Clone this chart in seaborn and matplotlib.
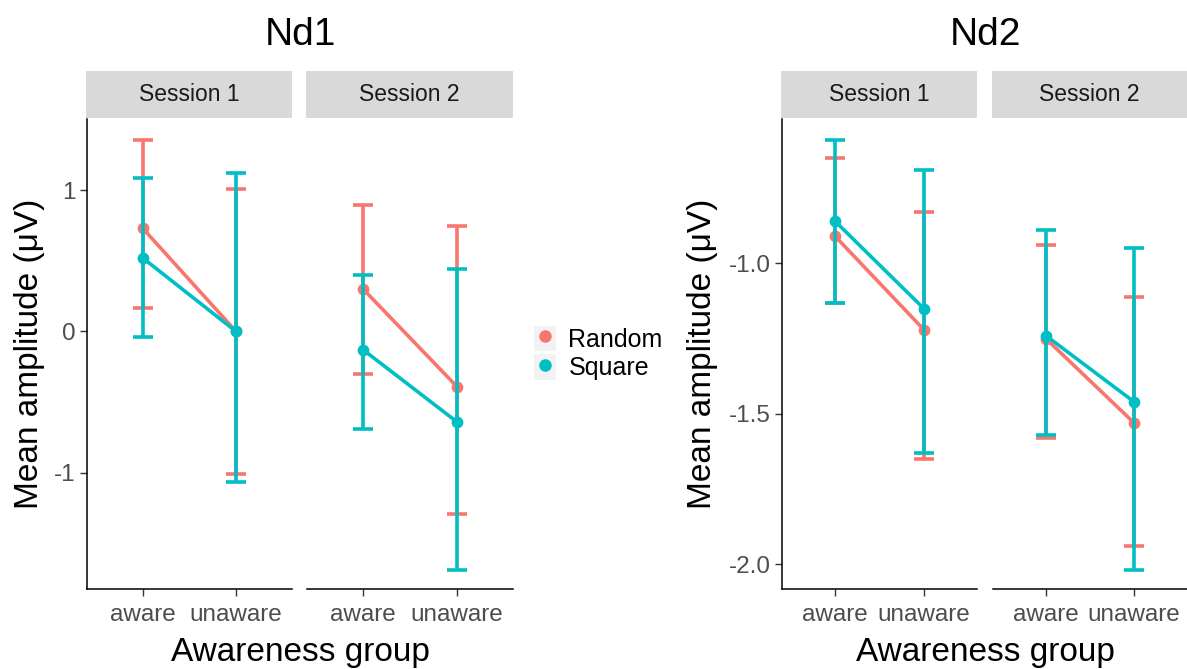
# Nd1 / Nd2 mean amplitude by awareness group, session and condition
import matplotlib
matplotlib.use("Agg")
import matplotlib.pyplot as plt
from matplotlib.lines import Line2D
from matplotlib.patches import Patch
import seaborn as sns
import pandas as pd

# ---- data ----
components = ["Nd1", "Nd2"]
sessions = ["Session 1", "Session 2"]
groups = ["aware", "unaware"]
conditions = ["Random", "Square"]

# order: S1 aware, S1 unaware, S2 aware, S2 unaware
nd1_random_mean = [0.73, 0.00, 0.30, -0.39]
nd1_random_low = [0.17, -1.01, -0.30, -1.29]
nd1_random_high = [1.36, 1.01, 0.90, 0.75]
nd1_square_mean = [0.52, 0.00, -0.13, -0.64]
nd1_square_low = [-0.04, -1.07, -0.69, -1.69]
nd1_square_high = [1.09, 1.12, 0.40, 0.44]

nd2_random_mean = [-0.91, -1.22, -1.25, -1.53]
nd2_random_low = [-1.13, -1.65, -1.58, -1.94]
nd2_random_high = [-0.65, -0.83, -0.94, -1.11]
nd2_square_mean = [-0.86, -1.15, -1.24, -1.46]
nd2_square_low = [-1.13, -1.63, -1.57, -2.02]
nd2_square_high = [-0.59, -0.69, -0.89, -0.95]

nd1_ticks = [-1, 0, 1]
nd1_ticklabels = ["-1", "0", "1"]
nd2_ticks = [-2.0, -1.5, -1.0]
nd2_ticklabels = ["-2.0", "-1.5", "-1.0"]

colors = {"Random": "#F8766D", "Square": "#00BFC4"}

# tabela longa
rows = []
series = {
    ("Nd1", "Random"): (nd1_random_mean, nd1_random_low, nd1_random_high),
    ("Nd1", "Square"): (nd1_square_mean, nd1_square_low, nd1_square_high),
    ("Nd2", "Random"): (nd2_random_mean, nd2_random_low, nd2_random_high),
    ("Nd2", "Square"): (nd2_square_mean, nd2_square_low, nd2_square_high),
}
for (comp, cond), (means, lows, highs) in series.items():
    i = 0
    for sess in sessions:
        for grp in groups:
            rows.append({"component": comp, "condition": cond, "session": sess,
                         "group": grp, "mean": means[i], "low": lows[i], "high": highs[i]})
            i += 1
df = pd.DataFrame(rows)

# ---- figure ----
sns.set_style("white")
plt.rcParams["font.family"] = ["Liberation Sans", "DejaVu Sans"]
plt.rcParams["axes.unicode_minus"] = False
plt.rcParams["text.color"] = "black"

W, H = 1187, 669
fig = plt.figure(figsize=(W / 100, H / 100), dpi=100)

def frac(x0, y0, x1, y1):
    return [x0 / W, 1 - y1 / H, (x1 - x0) / W, (y1 - y0) / H]

panel_x = {"Nd1": [(87, 292), (307, 513)], "Nd2": [(782, 977), (993, 1187)]}
ylims = {"Nd1": (-1.825, 1.506), "Nd2": (-2.082, -0.52)}
yticks = {"Nd1": (nd1_ticks, nd1_ticklabels), "Nd2": (nd2_ticks, nd2_ticklabels)}
top, bottom = 119, 589

for comp in components:
    for j, sess in enumerate(sessions):
        x0, x1 = panel_x[comp][j]
        ax = fig.add_axes(frac(x0, top, x1, bottom))
        sub = df[(df.component == comp) & (df.session == sess)]
        z = 2
        for cond in conditions:
            d = sub[sub.condition == cond].set_index("group").loc[groups]
            ax.errorbar(range(len(groups)), d["mean"],
                        yerr=[d["mean"] - d["low"], d["high"] - d["mean"]],
                        fmt="none", ecolor=colors[cond], elinewidth=2.6,
                        capsize=7, capthick=2.6, zorder=z)
            sns.pointplot(data=d.reset_index(), x="group", y="mean", order=groups,
                          color=colors[cond], errorbar=None, markers="o",
                          markersize=6.5, linewidth=2.6, ax=ax, zorder=z + 1)
            z += 2
        ax.set_xlim(-0.6, 1.6)
        ax.set_ylim(*ylims[comp])
        ax.set_xlabel("")
        ax.set_ylabel("")
        for s in ["top", "right"]:
            ax.spines[s].set_visible(False)
        ax.spines["bottom"].set_color("black")
        ax.spines["bottom"].set_linewidth(1.1)
        ax.tick_params(axis="x", bottom=True, length=5, width=1, color="#333333",
                       labelsize=17.5, labelcolor="#4D4D4D", pad=6)
        if j == 0:
            ax.spines["left"].set_color("black")
            ax.spines["left"].set_linewidth(1.1)
            ax.set_yticks(yticks[comp][0])
            ax.set_yticklabels(yticks[comp][1])
            ax.tick_params(axis="y", left=True, length=5, width=1, color="#333333",
                           labelsize=17.5, labelcolor="#4D4D4D", pad=3)
        else:
            ax.spines["left"].set_visible(False)
            ax.set_yticks([])

        # faixa do facet
        sax = fig.add_axes(frac(x0 - 1, 71, x1, 118))
        sax.set_facecolor("#D9D9D9")
        sax.set_xticks([])
        sax.set_yticks([])
        for s in sax.spines.values():
            s.set_visible(False)
        sax.text(0.5, 0.5, sess, ha="center", va="center", fontsize=16.5,
                 color="#1A1A1A", transform=sax.transAxes)

# titles and axis labels
for comp, cx, ylab_x in [("Nd1", 300, 30), ("Nd2", 985, 703)]:
    fig.text(cx / W, 1 - 35 / H, comp, ha="center", va="center", fontsize=28)
    fig.text(cx / W, 1 - 652 / H, "Awareness group", ha="center", va="center", fontsize=24)
    fig.text(ylab_x / W, 1 - 354 / H, "Mean amplitude (μV)", ha="center", va="center",
             rotation=90, fontsize=24)

# legend
handles = [(Patch(facecolor="#F2F2F2", edgecolor="none"),
            Line2D([], [], marker="o", linestyle="", color=colors[c], markersize=8))
           for c in conditions]
fig.legend(handles, conditions, loc="center left", frameon=False, fontsize=18,
           bbox_to_anchor=(521 / W, 1 - 353 / H), handlelength=0.9, handleheight=1.2,
           handletextpad=0.5, labelspacing=0.1, borderpad=0)

fig.savefig("out.png", dpi=100)
